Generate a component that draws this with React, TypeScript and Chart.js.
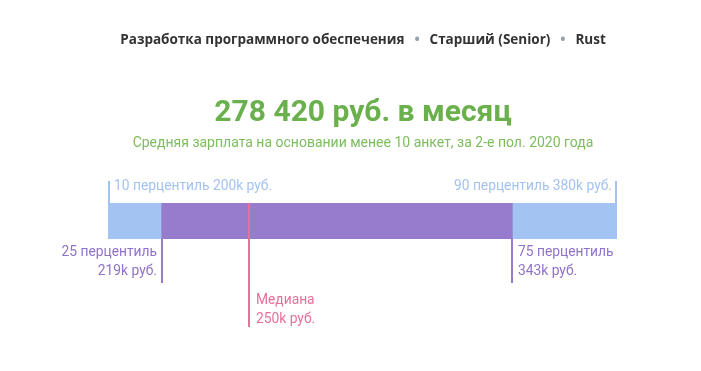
import React, { useEffect, useRef } from "react";
import { Chart, registerables } from "chart.js";

Chart.register(...registerables);

const headerParts = ["Разработка программного обеспечения", "Старший (Senior)", "Rust"];
const averageTitle = "278 420 руб. в месяц";
const averageSubtitle = "Средняя зарплата на основании менее 10 анкет, за 2-е пол. 2020 года";
const categories = ["Зарплата"];
const outerRange = [200, 380]; // 10 - 90 percentile, k руб.
const innerRange = [219, 343]; // 25 - 75 percentile
const medianValue = 250;
const pctLabels = ["10 перцентиль", "25 перцентиль", "Медиана", "75 перцентиль", "90 перцентиль"];
const pctValues = [200, 219, 250, 343, 380];
const unit = "k руб.";

const BLUE = "#a3c3f2";
const PURPLE = "#977bcd";
const PURPLE_TEXT = "#8f72c9";
const PINK = "#e8709a";
const GREEN = "#6ab04c";
const FONT = "Roboto";

const overlay = {
  id: "overlay",
  afterDraw(chart: any) {
    const ctx = chart.ctx as CanvasRenderingContext2D;
    const x = chart.scales.x;
    const area = chart.chartArea;
    const cx = 363;
    ctx.save();
    // header
    ctx.textBaseline = "middle";
    const hf = `bold 13.5px "Open Sans"`;
    ctx.font = hf;
    const gap = 25;
    const widths = headerParts.map((p) => ctx.measureText(p).width);
    const total = widths.reduce((a, b) => a + b, 0) + gap * (headerParts.length - 1);
    let hx = cx - total / 2;
    headerParts.forEach((p, i) => {
      ctx.fillStyle = "#333333";
      ctx.textAlign = "left";
      ctx.font = hf;
      ctx.fillText(p, hx, 40);
      hx += widths[i];
      if (i < headerParts.length - 1) {
        ctx.fillStyle = "#9aa0a8";
        ctx.textAlign = "center";
        ctx.font = `bold 14px "Open Sans"`;
        ctx.fillText("•", hx + gap / 2, 40);
        hx += gap;
      }
    });
    // title
    ctx.textAlign = "center";
    ctx.fillStyle = GREEN;
    ctx.font = `bold 30px ${FONT}`;
    ctx.fillText(averageTitle, cx, 113);
    ctx.fillStyle = "#7cbd5e";
    ctx.font = `14px ${FONT}`;
    ctx.fillText(averageSubtitle, cx, 143);

    const top = area.top;
    const bottom = area.bottom;
    ctx.lineWidth = 2;
    const vline = (v: number, y1: number, y2: number, color: string, off = 0) => {
      const px = Math.round(x.getPixelForValue(v)) + off;
      ctx.strokeStyle = color;
      ctx.beginPath();
      ctx.moveTo(px, y1);
      ctx.lineTo(px, y2);
      ctx.stroke();
      return px;
    };
    ctx.font = `13.8px ${FONT}`;
    // 10
    let px = vline(pctValues[0], top - 22, top, BLUE, 1);
    ctx.fillStyle = BLUE;
    ctx.textAlign = "left";
    ctx.fillText(`${pctLabels[0]} ${pctValues[0]}${unit}`, px + 5, top - 16);
    // 90
    px = vline(pctValues[4], top - 22, top, BLUE, -1);
    ctx.textAlign = "right";
    ctx.fillText(`${pctLabels[4]} ${pctValues[4]}${unit}`, px - 4, top - 16);
    // 25
    px = vline(pctValues[1], bottom, bottom + 44, PURPLE, 0);
    ctx.fillStyle = PURPLE_TEXT;
    ctx.textAlign = "right";
    ctx.fillText(pctLabels[1], px - 5, bottom + 14);
    ctx.fillText(`${pctValues[1]}${unit}`, px - 5, bottom + 33);
    // 75
    px = vline(pctValues[3], bottom, bottom + 44, PURPLE, 0);
    ctx.textAlign = "left";
    ctx.fillText(pctLabels[3], px + 6, bottom + 14);
    ctx.fillText(`${pctValues[3]}${unit}`, px + 6, bottom + 33);
    // median
    px = vline(medianValue, top, bottom + 88, PINK, 0);
    ctx.fillStyle = PINK;
    ctx.fillText(pctLabels[2], px + 7, bottom + 62);
    ctx.fillText(`${pctValues[2]}${unit}`, px + 7, bottom + 81);
    ctx.restore();
  },
};

export default function App() {
  const ref = useRef<HTMLCanvasElement>(null);
  useEffect(() => {
    document.body.style.margin = "0";
    const chart = new Chart(ref.current!, {
      type: "bar",
      data: {
        labels: categories,
        datasets: [
          { data: [innerRange as any], backgroundColor: PURPLE, borderWidth: 0, order: 0 },
          { data: [outerRange as any], backgroundColor: BLUE, borderWidth: 0, order: 1 },
        ],
      },
      options: {
        indexAxis: "y",
        animation: false,
        responsive: false,
        grouped: false,
        barPercentage: 1,
        categoryPercentage: 1,
        layout: { padding: { left: 108, right: 84, top: 203, bottom: 132 } },
        scales: {
          x: { display: false, min: 200, max: 380 },
          y: { display: false },
        },
        plugins: { legend: { display: false }, tooltip: { enabled: false } },
      } as any,
      plugins: [overlay],
    });
    return () => chart.destroy();
  }, []);
  return <canvas ref={ref} width={701} height={371} style={{ display: "block" }} />;
}
